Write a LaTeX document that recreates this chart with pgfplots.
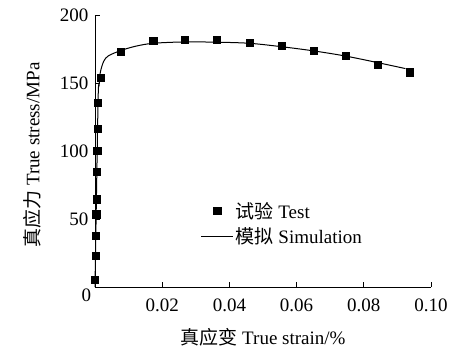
\documentclass[border=0pt]{standalone}
\usepackage{fontspec}
\setmainfont{Liberation Serif}
\newfontfamily\cjk{Noto Sans CJK SC}
\usepackage{pgfplots}
\pgfplotsset{compat=1.18}
\pgfplotsset{
  legmark/.style={legend image code/.code={\draw[##1] plot coordinates {(16pt,0pt)};}},
  legline/.style={legend image code/.code={\draw[##1] (0pt,0pt) -- (32pt,0pt);}},
}
\begin{document}
\begin{tikzpicture}
\begin{axis}[
  scale only axis, width=336pt, height=272pt,
  xmin=0, xmax=0.1, ymin=0, ymax=200,
  axis lines*=left,
  axis line style={line width=0.9pt},
  tick style={line width=0.9pt, black},
  tick align=inside,
  major tick length=5pt,
  xtick={0.02,0.04,0.06,0.08,0.1},
  xticklabels={0.02,0.04,0.06,0.08,0.10},
  ytick={0,50,100,150,200},
  yticklabels={,50,100,150,200},
  font=\fontsize{19}{22}\selectfont,
  /pgf/number format/assume math mode=true,
  xticklabel style={yshift=-8pt},
  yticklabel style={xshift=-3pt},
  xlabel={{\cjk 真应变} True strain/\%},
  ylabel={{\cjk 真应力} True stress/MPa},
  xlabel style={yshift=-10pt},
  ylabel style={at={(ticklabel cs:0.485)}, yshift=12pt},
  legend style={draw=none, fill=none, at={(axis cs:0.0314,64)}, anchor=north west,
    inner sep=0pt, font=\fontsize{19}{22}\selectfont, row sep=4pt,
    /tikz/every even column/.append style={column sep=3pt}},
  legend cell align=left,
  clip=false,
]
\addplot[only marks, mark=square*, mark size=3.6pt, black, legmark] coordinates {
(0.00003,5.1) (0.00015,22.8) (0.00025,38) (0.00036,53.5) (0.00043,64.5)
(0.00057,84.8) (0.00067,100.2) (0.00078,116.4) (0.0009,135.5)
(0.0016,153.9) (0.0076,173) (0.0173,180.9) (0.0266,181.8) (0.0363,181.8)
(0.046,179.9) (0.0555,177.2) (0.0651,174) (0.0746,169.9) (0.0841,163.5) (0.0936,157.9)
};
\addlegendentry{{\cjk 试验} Test}
\addplot[black, line width=1pt, smooth, legline] coordinates {
(0,0) (0.0009,135) (0.0012,148) (0.0016,158) (0.0026,166) (0.004,170) (0.0076,173.8)
(0.012,177) (0.0173,179.2) (0.0266,180.2) (0.0363,180) (0.046,179.2)
(0.0555,176.7) (0.0651,173.6) (0.0746,169.8) (0.0841,165) (0.0924,160.6)
};
\addlegendentry{{\cjk 模拟} Simulation}
\node[inner sep=0pt] at ([xshift=-8.5pt,yshift=-8pt]rel axis cs:0,0) {0};
\coordinate (sw) at (rel axis cs:0,0);
\end{axis}
\pgfresetboundingbox
\path[use as bounding box] ([xshift=-95pt,yshift=-64pt]sw) rectangle ([xshift=361pt,yshift=287pt]sw);
\end{tikzpicture}
\end{document}
